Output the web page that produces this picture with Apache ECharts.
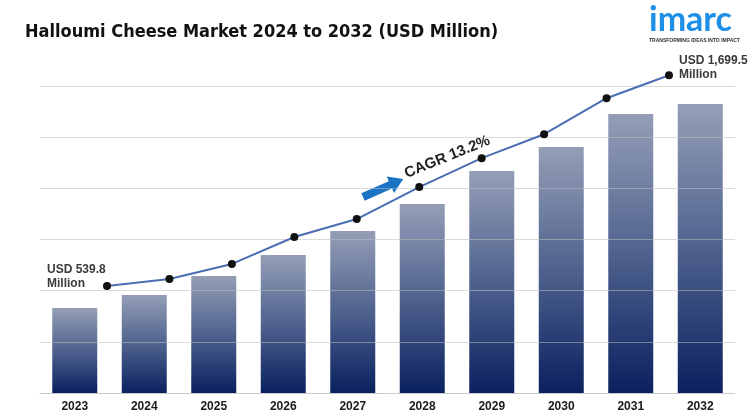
<!DOCTYPE html>
<html>
<head>
<meta charset="utf-8">
<script src="https://cdn.jsdelivr.net/npm/echarts@6/dist/echarts.min.js"></script>
<style>
html,body{margin:0;padding:0;background:#fff;}
#chart{width:750px;height:419px;}
</style>
</head>
<body>
<div id="chart"></div>
<script>
// Data
const years = ['2023','2024','2025','2026','2027','2028','2029','2030','2031','2032'];
// bar heights (chart units)
const barValues = [415, 479, 572, 674, 791, 923, 1085, 1202, 1363, 1412];
// line values (USD Million, estimated between the labelled ends)
const lineValues = [539.8, 578, 661, 809, 908, 1084, 1243, 1375, 1573, 1699.5];
const titleText = 'Halloumi Cheese Market 2024 to 2032 (USD Million)';
const startLabel = 'USD 539.8\nMillion';
const endLabel = 'USD 1,699.5\nMillion';
const cagrText = 'CAGR 13.2%';

const chart = echarts.init(document.getElementById('chart'));
const option = {
  animation: false,
  backgroundColor: '#fff',
  title: {
    text: titleText,
    left: 20, top: 18,
    textStyle: {fontFamily: 'DejaVu Sans Condensed, sans-serif', fontWeight: 'bold', fontSize: 18, color: '#111'}
  },
  grid: [
    {left: 40, right: 15, top: 86, bottom: 26},
    {left: 107, right: 81, top: 57, bottom: 35}
  ],
  xAxis: [
    {type: 'category', gridIndex: 0, data: years,
     axisLine: {lineStyle: {color: '#d9d9d9'}}, axisTick: {show: false},
     axisLabel: {margin: 8, fontFamily: 'Liberation Sans, Arial, sans-serif', fontWeight: 'bold', fontSize: 12, color: '#1a1a1a'}},
    {type: 'category', gridIndex: 1, data: years, boundaryGap: false, show: false}
  ],
  yAxis: [
    {type: 'value', gridIndex: 0, min: 0, max: 1500, interval: 250, z: 3,
     axisLabel: {show: false}, axisLine: {show: false}, axisTick: {show: false},
     splitLine: {lineStyle: {color: 'rgba(190,190,190,0.55)', width: 1}}},
    {type: 'value', gridIndex: 1, min: 0, max: 1800, show: false, splitLine: {show: false}}
  ],
  series: [
    {type: 'bar', xAxisIndex: 0, yAxisIndex: 0, data: barValues, barWidth: 45,
     itemStyle: {color: new echarts.graphic.LinearGradient(0, 0, 0, 1, [
       {offset: 0, color: '#949eb6'}, {offset: 0.5, color: '#4f628e'}, {offset: 1, color: '#0a215f'}
     ])}},
    {type: 'line', xAxisIndex: 1, yAxisIndex: 1, data: lineValues, z: 5,
     lineStyle: {color: '#4a6db3', width: 2},
     symbol: 'circle', symbolSize: 8, itemStyle: {color: '#111'}}
  ],
  graphic: [
    {type: 'text', left: 47, top: 263, style: {text: startLabel, font: 'bold 12px Liberation Sans, Arial, sans-serif', fill: '#3a3a3a', lineHeight: 14}},
    {type: 'text', left: 679, top: 54, style: {text: endLabel, font: 'bold 12px Liberation Sans, Arial, sans-serif', fill: '#3a3a3a', lineHeight: 14}},
    {type: 'text', x: 408, y: 181, rotation: 22 * Math.PI / 180, style: {text: cagrText, font: 'bold 15px Liberation Sans, Arial, sans-serif', fill: '#222', textVerticalAlign: 'bottom'}},
    {type: 'polygon', x: 363, y: 197, rotation: 24 * Math.PI / 180,
     shape: {points: [[0,-4],[30,-4],[30,-9],[44,0],[30,9],[30,4],[0,4]]},
     style: {fill: '#1a73c4'}},
    {type: 'text', left: 649, top: 3, style: {text: 'imarc', font: 'bold 34px Lato, Arial, sans-serif', fill: '#1e8fe6'}},
    {type: 'text', left: 649, top: 38, style: {text: 'TRANSFORMING IDEAS INTO IMPACT', font: 'bold 5px Liberation Sans, Arial, sans-serif', fill: '#333'}}
  ]
};
chart.setOption(option);
</script>
</body>
</html>
